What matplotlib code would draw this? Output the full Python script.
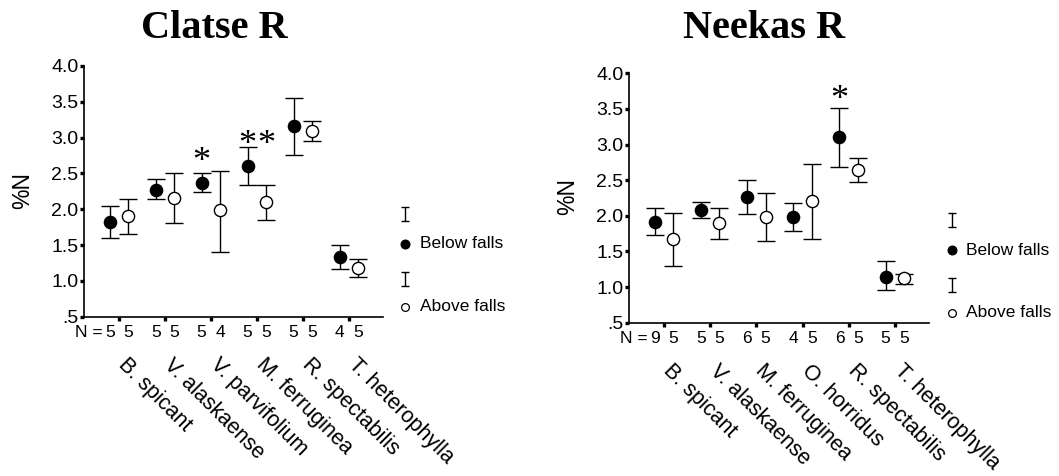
import matplotlib
matplotlib.use("Agg")
import matplotlib.pyplot as plt
from matplotlib.path import Path
from matplotlib.ticker import FixedLocator, FuncFormatter

plt.rcParams['font.family'] = ['Liberation Sans', 'DejaVu Sans']

# ---------------- data ----------------
clatse_species = ["B. spicant", "V. alaskaense", "V. parvifolium",
                  "M. ferruginea", "R. spectabilis", "T. heterophylla"]
clatse_below_mean = [1.82, 2.27, 2.37, 2.61, 3.16, 1.34]
clatse_below_low = [1.60, 2.14, 2.24, 2.34, 2.76, 1.17]
clatse_below_high = [2.05, 2.42, 2.51, 2.87, 3.56, 1.50]
clatse_above_mean = [1.91, 2.16, 1.99, 2.10, 3.09, 1.18]
clatse_above_low = [1.65, 1.81, 1.40, 1.85, 2.95, 1.05]
clatse_above_high = [2.14, 2.51, 2.54, 2.34, 3.23, 1.31]
clatse_n_below = [5, 5, 5, 5, 5, 4]
clatse_n_above = [5, 5, 4, 5, 5, 5]
clatse_stars = [(2, "below", 2.77), (3, "below", 3.01), (3, "above", 3.01)]

neekas_species = ["B. spicant", "V. alaskaense", "M. ferruginea",
                  "O. horridus", "R. spectabilis", "T. heterophylla"]
neekas_below_mean = [1.92, 2.08, 2.26, 1.99, 3.10, 1.14]
neekas_below_low = [1.73, 1.97, 2.03, 1.78, 2.69, 0.96]
neekas_below_high = [2.11, 2.19, 2.50, 2.18, 3.51, 1.36]
neekas_above_mean = [1.68, 1.90, 1.99, 2.21, 2.64, 1.13]
neekas_above_low = [1.29, 1.68, 1.65, 1.68, 2.47, 1.05]
neekas_above_high = [2.04, 2.11, 2.32, 2.73, 2.81, 1.19]
neekas_n_below = [9, 5, 6, 4, 6, 5]
neekas_n_above = [5, 5, 5, 5, 5, 5]
neekas_stars = [(4, "below", 3.73)]

y_ticks = [0.5, 1.0, 1.5, 2.0, 2.5, 3.0, 3.5, 4.0]
series_labels = ["Below falls", "Above falls"]

# ---------------- figure ----------------
W, H = 1059, 476
fig = plt.figure(figsize=(W / 100, H / 100), dpi=100)

OFF = 0.2
bar_path = Path([(-0.3, -0.5), (0.3, -0.5), (0, -0.5), (0, 0.5), (-0.3, 0.5), (0.3, 0.5)],
                [Path.MOVETO, Path.LINETO, Path.MOVETO, Path.LINETO, Path.MOVETO, Path.LINETO])


def panel(rect, title, title_x, species, bm, bl, bh, am, al, ah, nb, na, stars):
    ax = fig.add_axes(rect)
    xs = list(range(1, len(species) + 1))
    xb = [x - OFF for x in xs]
    xa = [x + OFF for x in xs]
    ax.errorbar(xb, bm, yerr=[[m - l for m, l in zip(bm, bl)], [h - m for m, h in zip(bm, bh)]],
                fmt='o', ms=8.8, mfc='black', mec='black', color='black',
                elinewidth=1.0, capsize=6.8, capthick=1.0, zorder=3)
    ax.errorbar(xa, am, yerr=[[m - l for m, l in zip(am, al)], [h - m for m, h in zip(am, ah)]],
                fmt='o', ms=8.8, mfc='white', mec='black', mew=1.0, color='black',
                elinewidth=1.0, capsize=6.8, capthick=1.0, zorder=3)
    ax.set_xlim(0.24, 6.74)
    ax.set_ylim(0.5, 4.0)
    ax.xaxis.set_major_locator(FixedLocator(xs))
    ax.set_xticklabels([])
    ax.yaxis.set_major_locator(FixedLocator(y_ticks))
    ax.yaxis.set_major_formatter(FuncFormatter(
        lambda v, p: ('%.1f' % v) if v >= 1 else ('%.1f' % v).lstrip('0')))
    ax.tick_params(axis='both', direction='out', length=3, width=2.4, labelsize=14, pad=1)
    for s in ['top', 'right']:
        ax.spines[s].set_visible(False)
    for s in ['left', 'bottom']:
        ax.spines[s].set_linewidth(1.2)
    ax.text(-0.205, 0.505, "%N", transform=ax.transAxes, rotation=90,
            ha='center', va='center', fontsize=16.5)
    # N labels
    for x, n in zip(xb, nb):
        ax.annotate(str(n), xy=(x, 0), xycoords=('data', 'axes fraction'),
                    xytext=(0, -11.5), textcoords='offset points',
                    ha='center', va='center', fontsize=12.5, annotation_clip=False)
    for x, n in zip(xa, na):
        ax.annotate(str(n), xy=(x, 0), xycoords=('data', 'axes fraction'),
                    xytext=(0, -11.5), textcoords='offset points',
                    ha='center', va='center', fontsize=12.5, annotation_clip=False)
    ax.annotate("N =", xy=(xb[0], 0), xycoords=('data', 'axes fraction'),
                xytext=(-5, -11.5), textcoords='offset points',
                ha='right', va='center', fontsize=12.5, annotation_clip=False)
    # species labels
    for x, name in zip(xs, species):
        ax.annotate(name, xy=(x, 0), xycoords=('data', 'axes fraction'),
                    xytext=(7, -27), textcoords='offset points',
                    rotation=-45, rotation_mode='anchor',
                    ha='left', va='top', fontsize=15.5, annotation_clip=False)
    # significance stars
    for i, side, y in stars:
        x = xb[i] if side == "below" else xa[i]
        ax.annotate("*", xy=(x, y), xycoords='data', xytext=(0, -6),
                    textcoords='offset points', ha='center', va='center',
                    fontsize=26, family=['Liberation Serif', 'DejaVu Serif'],
                    annotation_clip=False)
    # legend (drawn manually to mimic the SPSS layout)
    lx, tx = 1.075, 1.125
    rows = [0.41, 0.29, 0.15, 0.04]
    ax.plot([lx], [rows[0]], marker=bar_path, ms=10, color='black', mew=1.0,
            transform=ax.transAxes, clip_on=False, linestyle='none')
    ax.plot([lx], [rows[1]], marker='o', ms=6.2, mfc='black', mec='black',
            transform=ax.transAxes, clip_on=False, linestyle='none')
    ax.text(tx, rows[1], series_labels[0], transform=ax.transAxes,
            ha='left', va='center', fontsize=12.5)
    ax.plot([lx], [rows[2]], marker=bar_path, ms=10, color='black', mew=1.0,
            transform=ax.transAxes, clip_on=False, linestyle='none')
    ax.plot([lx], [rows[3]], marker='o', ms=5.6, mfc='white', mec='black', mew=0.9,
            transform=ax.transAxes, clip_on=False, linestyle='none')
    ax.text(tx, rows[3], series_labels[1], transform=ax.transAxes,
            ha='left', va='center', fontsize=12.5)
    fig.text(title_x, 1 - 38 / H, title, ha='center', va='baseline',
             fontsize=29, fontweight='bold', family=['Liberation Serif', 'DejaVu Serif'])
    return ax


panel([84 / W, 1 - 316.7 / H, 298.7 / W, 250.7 / H], "Clatse R", 214 / W,
      clatse_species, clatse_below_mean, clatse_below_low, clatse_below_high,
      clatse_above_mean, clatse_above_low, clatse_above_high,
      clatse_n_below, clatse_n_above, clatse_stars)
panel([629 / W, 1 - 322.7 / H, 300 / W, 249.4 / H], "Neekas R", 764 / W,
      neekas_species, neekas_below_mean, neekas_below_low, neekas_below_high,
      neekas_above_mean, neekas_above_low, neekas_above_high,
      neekas_n_below, neekas_n_above, neekas_stars)

fig.savefig("out.png", dpi=100)
